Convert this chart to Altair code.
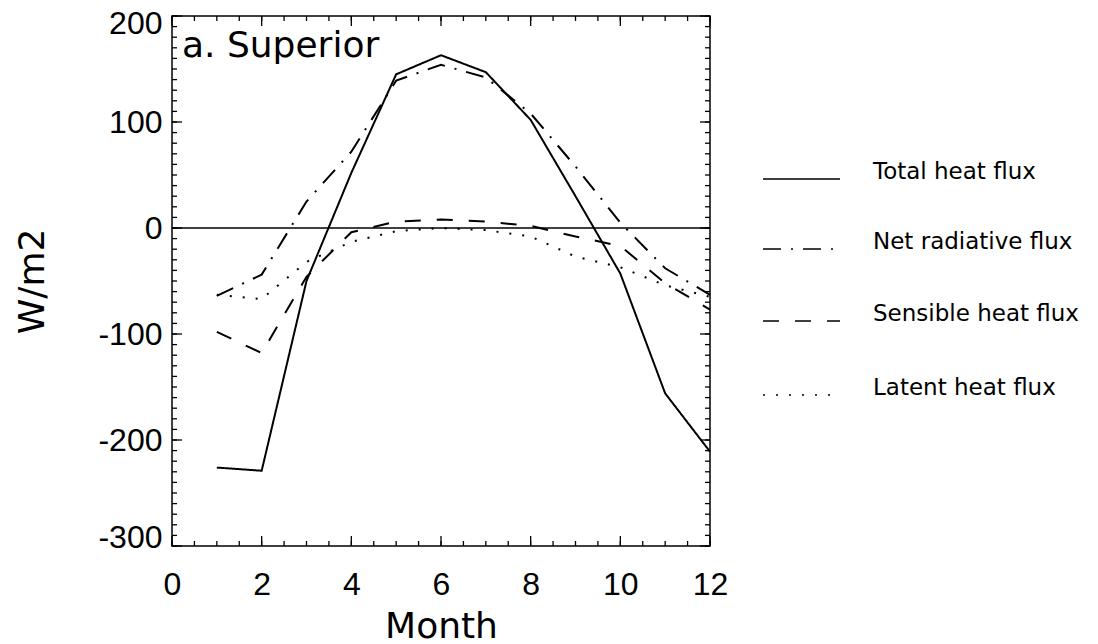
import altair as alt
import pandas as pd

# ---- data ----
months = [1, 2, 3, 4, 5, 6, 7, 8, 9, 10, 11, 12]
total = [-226, -229, -50, 52, 145, 163, 147, 102, 30, -43, -156, -211]
net_rad = [-64, -44, 25, 72, 139, 154, 142, 108, 58, 5, -38, -63]
sensible = [-98, -118, -46, -4, 6, 8, 6, 2, -8, -17, -52, -77]
latent = [-63, -67, -32, -13, -3, 0, -2, -8, -27, -37, -54, -65]

series_names = ["Total heat flux", "Net radiative flux", "Sensible heat flux", "Latent heat flux"]
series_values = [total, net_rad, sensible, latent]

x_major = [0, 2, 4, 6, 8, 10, 12]
x_minor = [i * 0.5 for i in range(25)]
y_major = [-300, -200, -100, 0, 100, 200]
y_minor = list(range(-300, 201, 10))

# ---- styling ----
W, H = 538, 530
FONT = "DejaVu Sans"
TICKFONT = "Liberation Sans"
dashes = [[1, 0], [18, 10, 2, 10], [16, 16], [2, 11]]
legend_y = [163, 233, 305, 379]
label_expr = "datum.value < 0 ? '-' + abs(datum.value) : '' + datum.value"

xscale = alt.Scale(domain=[0, 12], nice=False, zero=False)
yscale = alt.Scale(domain=[-300, 200], nice=False, zero=False)

xaxis = alt.Axis(values=x_major, labelExpr=label_expr, title="Month",
                 labelFontSize=32, labelPadding=23, titleFontSize=36,
                 titleFontWeight="normal", titlePadding=9,
                 ticks=False, domain=False, grid=False, labelFlush=False,
                 labelColor="black", titleColor="black",
                 labelFont=TICKFONT, titleFont=FONT)
yaxis = alt.Axis(values=y_major, labelExpr=label_expr, title="W/m2",
                 labelFontSize=32, labelPadding=10, titleFontSize=36,
                 titleFontWeight="normal", titlePadding=46,
                 ticks=False, domain=False, grid=False,
                 labelFlush=True, labelFlushOffset=8,
                 labelColor="black", titleColor="black",
                 labelFont=TICKFONT, titleFont=FONT)

layers = []

# main series
for i, (name, vals) in enumerate(zip(series_names, series_values)):
    df = pd.DataFrame({"month": months, "value": vals, "series": name})
    line = alt.Chart(df).mark_line(color="black", strokeWidth=2,
                                   strokeDash=dashes[i]).encode(
        x=alt.X("month:Q", scale=xscale, axis=xaxis),
        y=alt.Y("value:Q", scale=yscale, axis=yaxis),
    )
    layers.append(line)

# zero line
zero_df = pd.DataFrame({"v": [0]})
layers.append(alt.Chart(zero_df).mark_rule(color="black", strokeWidth=1.5).encode(
    y=alt.Y("v:Q", scale=yscale, axis=yaxis), x=alt.value(0), x2=alt.value(W)))

# inward ticks
def xticks(vals, length):
    df = pd.DataFrame({"v": vals})
    bot = alt.Chart(df).mark_rule(color="black", strokeWidth=1.3).encode(
        x=alt.X("v:Q", scale=xscale, axis=xaxis), y=alt.value(H), y2=alt.value(H - length))
    top = alt.Chart(df).mark_rule(color="black", strokeWidth=1.3).encode(
        x=alt.X("v:Q", scale=xscale, axis=xaxis), y=alt.value(0), y2=alt.value(length))
    return [bot, top]

def yticks(vals, length):
    df = pd.DataFrame({"v": vals})
    left = alt.Chart(df).mark_rule(color="black", strokeWidth=1.3).encode(
        y=alt.Y("v:Q", scale=yscale, axis=yaxis), x=alt.value(0), x2=alt.value(length))
    right = alt.Chart(df).mark_rule(color="black", strokeWidth=1.3).encode(
        y=alt.Y("v:Q", scale=yscale, axis=yaxis), x=alt.value(W), x2=alt.value(W - length))
    return [left, right]

layers += xticks(x_minor, 5) + xticks(x_major, 10)
layers += yticks(y_minor, 5) + yticks(y_major, 10)

# panel label
layers.append(alt.Chart(pd.DataFrame({"t": ["a. Superior"]})).mark_text(
    align="left", baseline="alphabetic", fontSize=36, font=FONT, color="black"
).encode(text="t:N", x=alt.value(10), y=alt.value(41)))

# manual legend
for i, name in enumerate(series_names):
    ldf = pd.DataFrame({"t": [name]})
    layers.append(alt.Chart(ldf).mark_rule(color="black", strokeWidth=1.5,
                                           strokeDash=dashes[i]).encode(
        x=alt.value(591), x2=alt.value(668), y=alt.value(legend_y[i])))
    layers.append(alt.Chart(ldf).mark_text(
        align="left", baseline="alphabetic", fontSize=23, font=FONT, color="black"
    ).encode(text="t:N", x=alt.value(701), y=alt.value(legend_y[i])))

chart = alt.layer(*layers).properties(
    width=W, height=H,
    padding={"left": 172, "top": 16, "right": 1098 - 172 - W, "bottom": 644 - 16 - H},
    autosize=alt.AutoSizeParams(type="none"),
).configure(font=FONT).configure_view(stroke="black", strokeWidth=1.5)

chart.save("out.html", embed_options={"renderer": "svg", "actions": False})
